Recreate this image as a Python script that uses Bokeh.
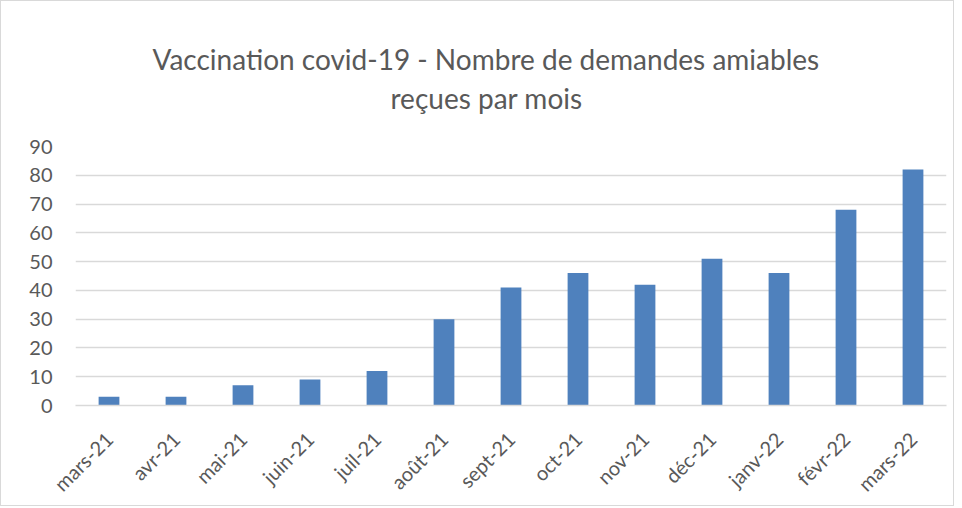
import math
from bokeh.plotting import figure
from bokeh.models import ColumnDataSource, Range1d, SingleIntervalTicker, Title
from bokeh.embed import file_html
from bokeh.resources import INLINE

months = ["mars-21", "avr-21", "mai-21", "juin-21", "juil-21", "août-21", "sept-21",
          "oct-21", "nov-21", "déc-21", "janv-22", "févr-22", "mars-22"]
demandes = [3, 3, 7, 9, 12, 30, 41, 46, 42, 51, 46, 68, 82]
title_line1 = "Vaccination covid-19 - Nombre de demandes amiables"
title_line2 = "reçues par mois"

FONT = "Lato"
TXT = "#595959"
GRID = "#d9d9d9"

src = ColumnDataSource(dict(month=months, value=demandes))

p = figure(x_range=months, y_range=Range1d(0, 90), width=954, height=506,
           output_backend="svg", toolbar_location=None,
           min_border_left=74, min_border_right=9, min_border_top=145, min_border_bottom=96)
p.title.visible = False

t2 = Title(text=title_line2, align="left", text_font=FONT,
           text_font_size="28px", text_font_style="normal", text_color=TXT,
           standoff=64, offset=315)
t1 = Title(text=title_line1, align="left", text_font=FONT,
           text_font_size="28px", text_font_style="normal", text_color=TXT,
           standoff=-58, offset=77)
p.add_layout(t2, "above")
p.add_layout(t1, "above")

p.vbar(x="month", top="value", width=0.31, source=src, fill_color="#4F81BD", line_color=None)

p.outline_line_color = None
p.styles = {"border": "1px solid #d9d9d9"}
p.xgrid.grid_line_color = None
p.ygrid.grid_line_color = GRID
p.ygrid.grid_line_width = 1.5
p.yaxis.ticker = SingleIntervalTicker(interval=10)
p.yaxis.axis_line_color = None
p.yaxis.major_tick_line_color = None
p.yaxis.minor_tick_line_color = None
p.yaxis.major_label_standoff = 17
p.yaxis.major_label_text_font = FONT
p.yaxis.major_label_text_font_size = "20px"
p.yaxis.major_label_text_color = TXT

p.xaxis.axis_line_color = GRID
p.xaxis.axis_line_width = 1.5
p.xaxis.major_tick_line_color = None
p.xaxis.minor_tick_line_color = None
p.xaxis.major_label_orientation = math.pi / 4
p.xaxis.major_label_standoff = 24
p.xaxis.major_label_text_font = FONT
p.xaxis.major_label_text_font_size = "20px"
p.xaxis.major_label_text_color = TXT

open("out.html", "w").write(file_html(p, INLINE))
